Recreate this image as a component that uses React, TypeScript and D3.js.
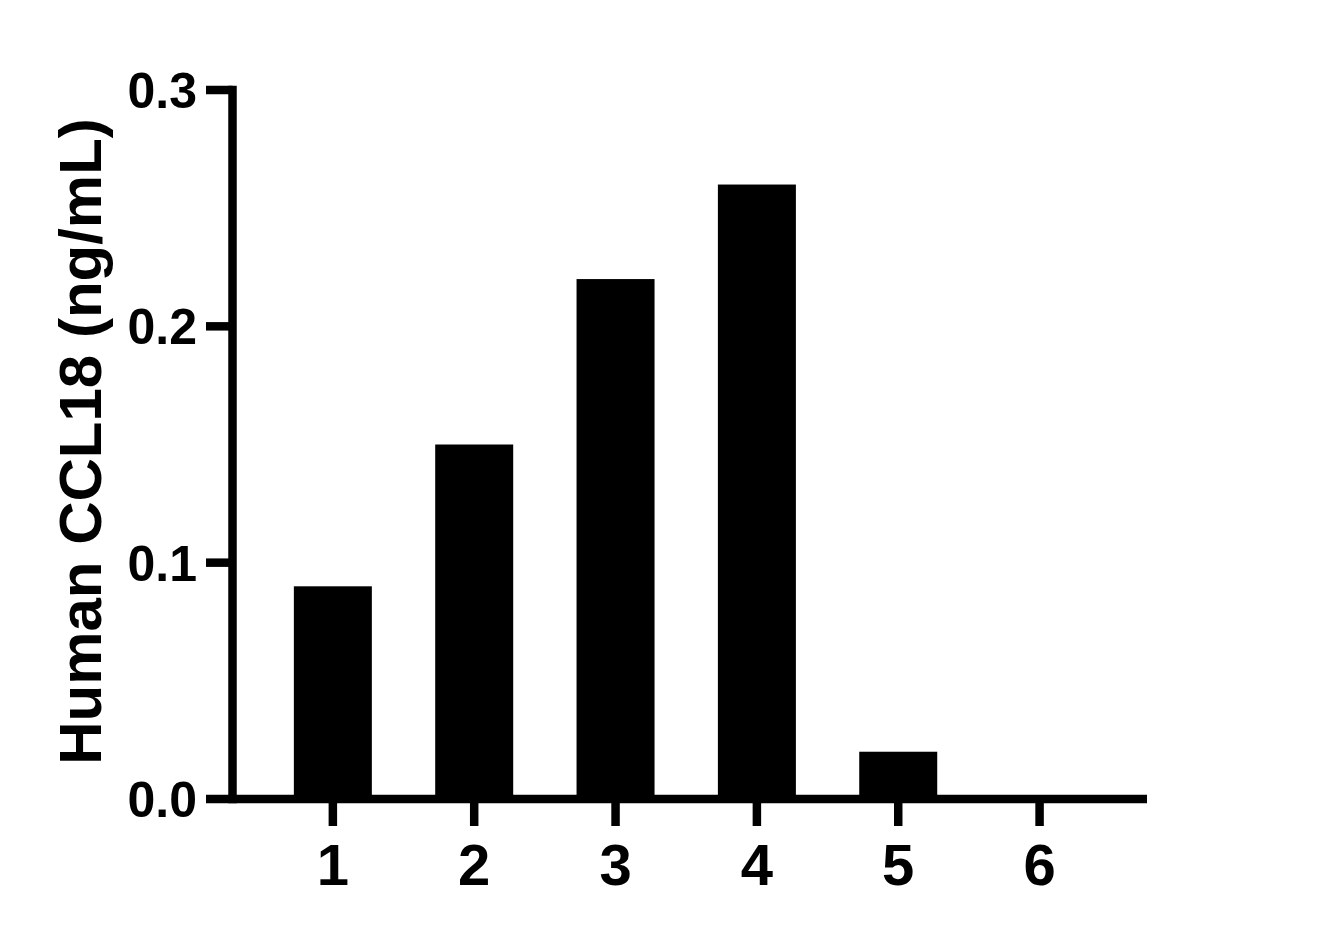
import React from "react";
import * as d3 from "d3";

const categories = ["1", "2", "3", "4", "5", "6"];
const values = [0.09, 0.15, 0.22, 0.26, 0.02, 0];
const yTicks = [0, 0.1, 0.2, 0.3];
const yLabel = "Human CCL18 (ng/mL)";

const WIDTH = 1324;
const HEIGHT = 939;
const FONT = "'Liberation Sans', Arial, Helvetica, sans-serif";

export default function App() {
  const y = d3.scaleLinear().domain([0, 0.3]).range([799, 90]);
  const x = d3.scaleLinear().domain([0.29, 6.76]).range([232.5, 1147]);
  const barW = 78;
  const axisW = 8.5;

  return (
    <svg
      width={WIDTH}
      height={HEIGHT}
      style={{ position: "absolute", left: 0, top: 0 }}
      fontFamily={FONT}
      fontWeight="bold"
    >
      <rect width={WIDTH} height={HEIGHT} fill="#fff" />

      {/* bars */}
      <g fill="#000">
        {values.map((v, i) => (
          <rect
            key={categories[i]}
            x={x(i + 1) - barW / 2}
            y={y(v)}
            width={barW}
            height={y(0) - y(v)}
          />
        ))}
      </g>

      {/* y axis */}
      <g stroke="#000" strokeWidth={axisW}>
        <line x1={x.range()[0]} x2={x.range()[0]} y1={y(0.3) - axisW / 2} y2={y(0) + axisW / 2} />
        {yTicks.map((t) => (
          <line key={t} x1={206} x2={x.range()[0]} y1={y(t)} y2={y(t)} />
        ))}
      </g>
      <g textAnchor="end" fontSize={50}>
        {yTicks.map((t) => (
          <text key={t} x={197} y={y(t) + 18}>
            {d3.format(".1f")(t)}
          </text>
        ))}
      </g>

      {/* x axis */}
      <g stroke="#000" strokeWidth={axisW}>
        <line x1={x.range()[0]} x2={x.range()[1]} y1={y(0)} y2={y(0)} />
        {categories.map((c, i) => (
          <line key={c} x1={x(i + 1)} x2={x(i + 1)} y1={y(0)} y2={826} />
        ))}
      </g>
      <g textAnchor="middle" fontSize={58}>
        {categories.map((c, i) => (
          <text key={c} x={x(i + 1)} y={885}>
            {c}
          </text>
        ))}
      </g>

      {/* y label */}
      <text
        transform={`translate(101, 441.5) rotate(-90)`}
        textAnchor="middle"
        fontSize={60}
      >
        {yLabel}
      </text>
    </svg>
  );
}
